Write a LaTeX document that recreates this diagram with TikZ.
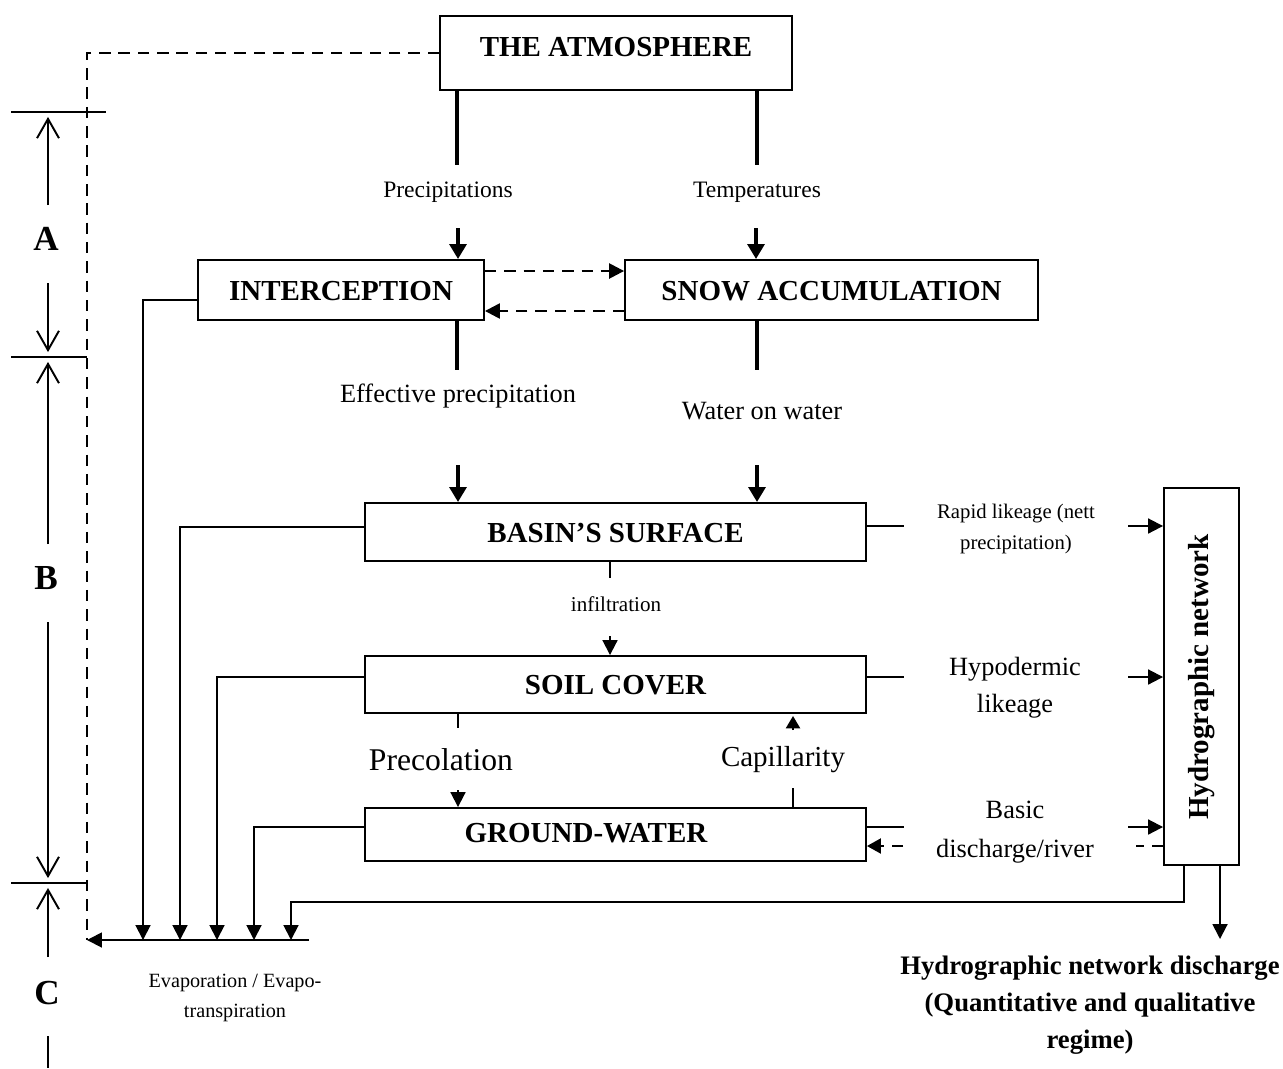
\documentclass[tikz,border=0pt]{standalone}
\usepackage{fontspec}
\setmainfont{Liberation Serif}
\usetikzlibrary{positioning, arrows.meta, calc}

\tikzset{
  box/.style={draw, line width=1.1pt, inner sep=0pt, text height=11.5pt, text depth=0pt,
    font=\fontsize{16.5}{18}\selectfont\bfseries},
  boxtxt/.style={inner sep=0pt, font=\fontsize{16.5}{18}\selectfont\bfseries},
  lbl/.style={inner sep=0pt, align=center},
  ln/.style={line width=1.1pt},
  thk/.style={line width=2.4pt},
  arr/.style={line width=1.1pt, -{Triangle[length=8.5pt,width=8.5pt]}},
  thkarr/.style={line width=2.4pt, -{Triangle[length=8.5pt,width=9.5pt]}},
  dsh/.style={line width=1.4pt, dash pattern=on 6.5pt off 4.5pt},
  dimarr/.style={line width=1.1pt, shorten >=2.8pt, -{Straight Barb[length=11pt,width=12.5pt]}},
}

\begin{document}
\begin{tikzpicture}[x=0.02cm, y=-0.02cm]
\useasboundingbox (0,0) rectangle (1283,1068);

\node[box, minimum width=7.04cm, minimum height=1.48cm, text depth=8pt] (atm) at (616,53) {THE ATMOSPHERE};
\node[box, minimum width=5.72cm, minimum height=1.2cm] (icp) at (341,290) {INTERCEPTION};
\node[box, minimum width=8.26cm, minimum height=1.2cm] (snw) at (831.5,290) {SNOW ACCUMULATION};
\node[box, minimum width=10.02cm, minimum height=1.16cm] (bas) at (615.5,532) {BASIN’S SURFACE};
\node[box, minimum width=10.02cm, minimum height=1.14cm] (soil) at (615.5,684.5) {SOIL COVER};
\node[box, minimum width=10.02cm, minimum height=1.06cm] (gw) at (615.5,834.5) {};
\node[boxtxt] (gwt) at (586,833) {GROUND-WATER};
\node[draw, line width=1.1pt, minimum width=1.5cm, minimum height=7.54cm] (hyd) at (1201.5,676.5) {};
\node[boxtxt, rotate=90] (hydt) at (1202,677) {Hydrographic network};

\node[lbl, font=\fontsize{13.4}{15}\selectfont] (prc) at (448,192) {Precipitations};
\node[lbl, font=\fontsize{13.4}{15}\selectfont] (tmp) at (757,192) {Temperatures};
\node[lbl, font=\fontsize{15}{17}\selectfont] (eff) at (458,396) {Effective precipitation};
\node[lbl, font=\fontsize{15}{17}\selectfont] (wow) at (762,411) {Water on water};
\node[lbl, font=\fontsize{12}{14}\selectfont] (inf) at (616,604) {infiltration};
\node[lbl, font=\fontsize{18}{20}\selectfont] (pcl) at (441,760) {Precolation};
\node[lbl, font=\fontsize{16.5}{18}\selectfont] (cap) at (783,760) {Capillarity};
\node[lbl, font=\fontsize{11.8}{18.2}\selectfont] (rap) at (1016,529) {Rapid likeage (nett\\precipitation)};
\node[lbl, font=\fontsize{15}{21}\selectfont] (hyp) at (1015,688) {Hypodermic\\likeage};
\node[lbl, font=\fontsize{15}{22}\selectfont] (bsc) at (1015,832) {Basic\\discharge/river};
\node[lbl, font=\fontsize{11.5}{17}\selectfont] (eva) at (235,998) {Evaporation / Evapo-\\transpiration};
\node[lbl, font=\fontsize{15.2}{21}\selectfont\bfseries] (out) at (1090,1005) {Hydrographic network discharge\\(Quantitative and qualitative\\regime)};

\node[lbl, font=\fontsize{20}{22}\selectfont\bfseries] (la) at (46,239) {A};
\node[lbl, font=\fontsize{20}{22}\selectfont\bfseries] (lb) at (46,578) {B};
\node[lbl, font=\fontsize{20}{22}\selectfont\bfseries] (lc) at (47,993) {C};

\draw[ln] (11,112) -- (106,112);
\draw[ln] (11,357) -- (87,357);
\draw[ln] (11,883) -- (87,883);
\draw[dimarr] (48,205) -- (48,112);
\draw[dimarr] (48,283) -- (48,357);
\draw[dimarr] (48,544) -- (48,357);
\draw[dimarr] (48,622) -- (48,883);
\draw[dimarr] (48,957) -- (48,883);
\draw[ln] (48,1036) -- (48,1068);

\coordinate (p1) at (457,165);
\coordinate (p2) at (458,228);
\coordinate (t1) at (757,165);
\coordinate (t2) at (756,228);
\coordinate (q1) at (457,370);
\coordinate (q2) at (458,465);
\coordinate (w1) at (757,370);
\coordinate (w2) at (757,465);
\draw[thk] (p1 |- atm.south) -- (p1);
\draw[thkarr] (p2) -- (p2 |- icp.north);
\draw[thk] (t1 |- atm.south) -- (t1);
\draw[thkarr] (t2) -- (t2 |- snw.north);
\draw[thk] (q1 |- icp.south) -- (q1);
\draw[thkarr] (q2) -- (q2 |- bas.north);
\draw[thk] (w1 |- snw.south) -- (w1);
\draw[thkarr] (w2) -- (w2 |- bas.north);

\draw[dsh, -{Triangle[length=8.5pt,width=8.5pt]}] ($(icp.east)+(0,-19)$) -- ($(snw.west)+(0,-19)$);
\draw[dsh, -{Triangle[length=8.5pt,width=8.5pt]}] ($(snw.west)+(0,21)$) -- ($(icp.east)+(0,21)$);

\coordinate (i1) at (610,578);
\coordinate (i2) at (610,636);
\draw[ln] (i1 |- bas.south) -- (i1);
\draw[arr] (i2) -- (i2 |- soil.north);
\coordinate (c1) at (458,728);
\coordinate (c2) at (458,790);
\draw[ln] (c1 |- soil.south) -- (c1);
\draw[arr] (c2) -- (c2 |- gw.north);
\coordinate (k1) at (793,788);
\coordinate (k2) at (793,730);
\coordinate (k3) at (793,716);
\draw[ln] (k1 |- gw.north) -- (k1);
\draw[-{Triangle[length=7pt,width=8pt]}, line width=1.1pt] (k2) -- (k3);

\coordinate (r1) at (1128,526);
\coordinate (r2) at (1128,677);
\coordinate (r3) at (1128,827);
\draw[ln] ($(bas.east)+(0,-6)$) -- ++(37,0);
\draw[ln] ($(soil.east)+(0,-7.5)$) -- ++(37,0);
\draw[ln] ($(gw.east)+(0,-7.5)$) -- ++(37,0);
\draw[arr] (r1) -- (r1 -| hyd.west);
\draw[arr] (r2) -- (r2 -| hyd.west);
\draw[arr] (r3) -- (r3 -| hyd.west);
\coordinate (d1) at (1136,846);
\coordinate (d2) at (903,846);
\draw[dsh] (d1 -| hyd.west) -- (d1);
\draw[dsh, -{Triangle[length=8pt,width=8.5pt]}] (d2) -- (d2 -| gw.east);

\coordinate (evl) at (87,940);
\coordinate (evr) at (309,940);
\coordinate (e1) at (143,940);
\coordinate (e2) at (180,940);
\coordinate (e3) at (217,940);
\coordinate (e4) at (254,940);
\coordinate (e5) at (291,940);
\draw[dsh] (atm.west) -| (evl);
\draw[arr] (evr) -- (evl);
\draw[arr] ($(icp.west)+(0,10)$) -| (e1);
\draw[arr] ($(bas.west)+(0,-5)$) -| (e2);
\draw[arr] ($(soil.west)+(0,-7.5)$) -| (e3);
\draw[arr] ($(gw.west)+(0,-7.5)$) -| (e4);
\coordinate (h1) at (1184,902);
\coordinate (h2) at (1220,939);
\draw[arr] (h1 |- hyd.south) -- (h1) -| (e5);
\draw[arr] (h2 |- hyd.south) -- (h2);
\end{tikzpicture}
\end{document}
